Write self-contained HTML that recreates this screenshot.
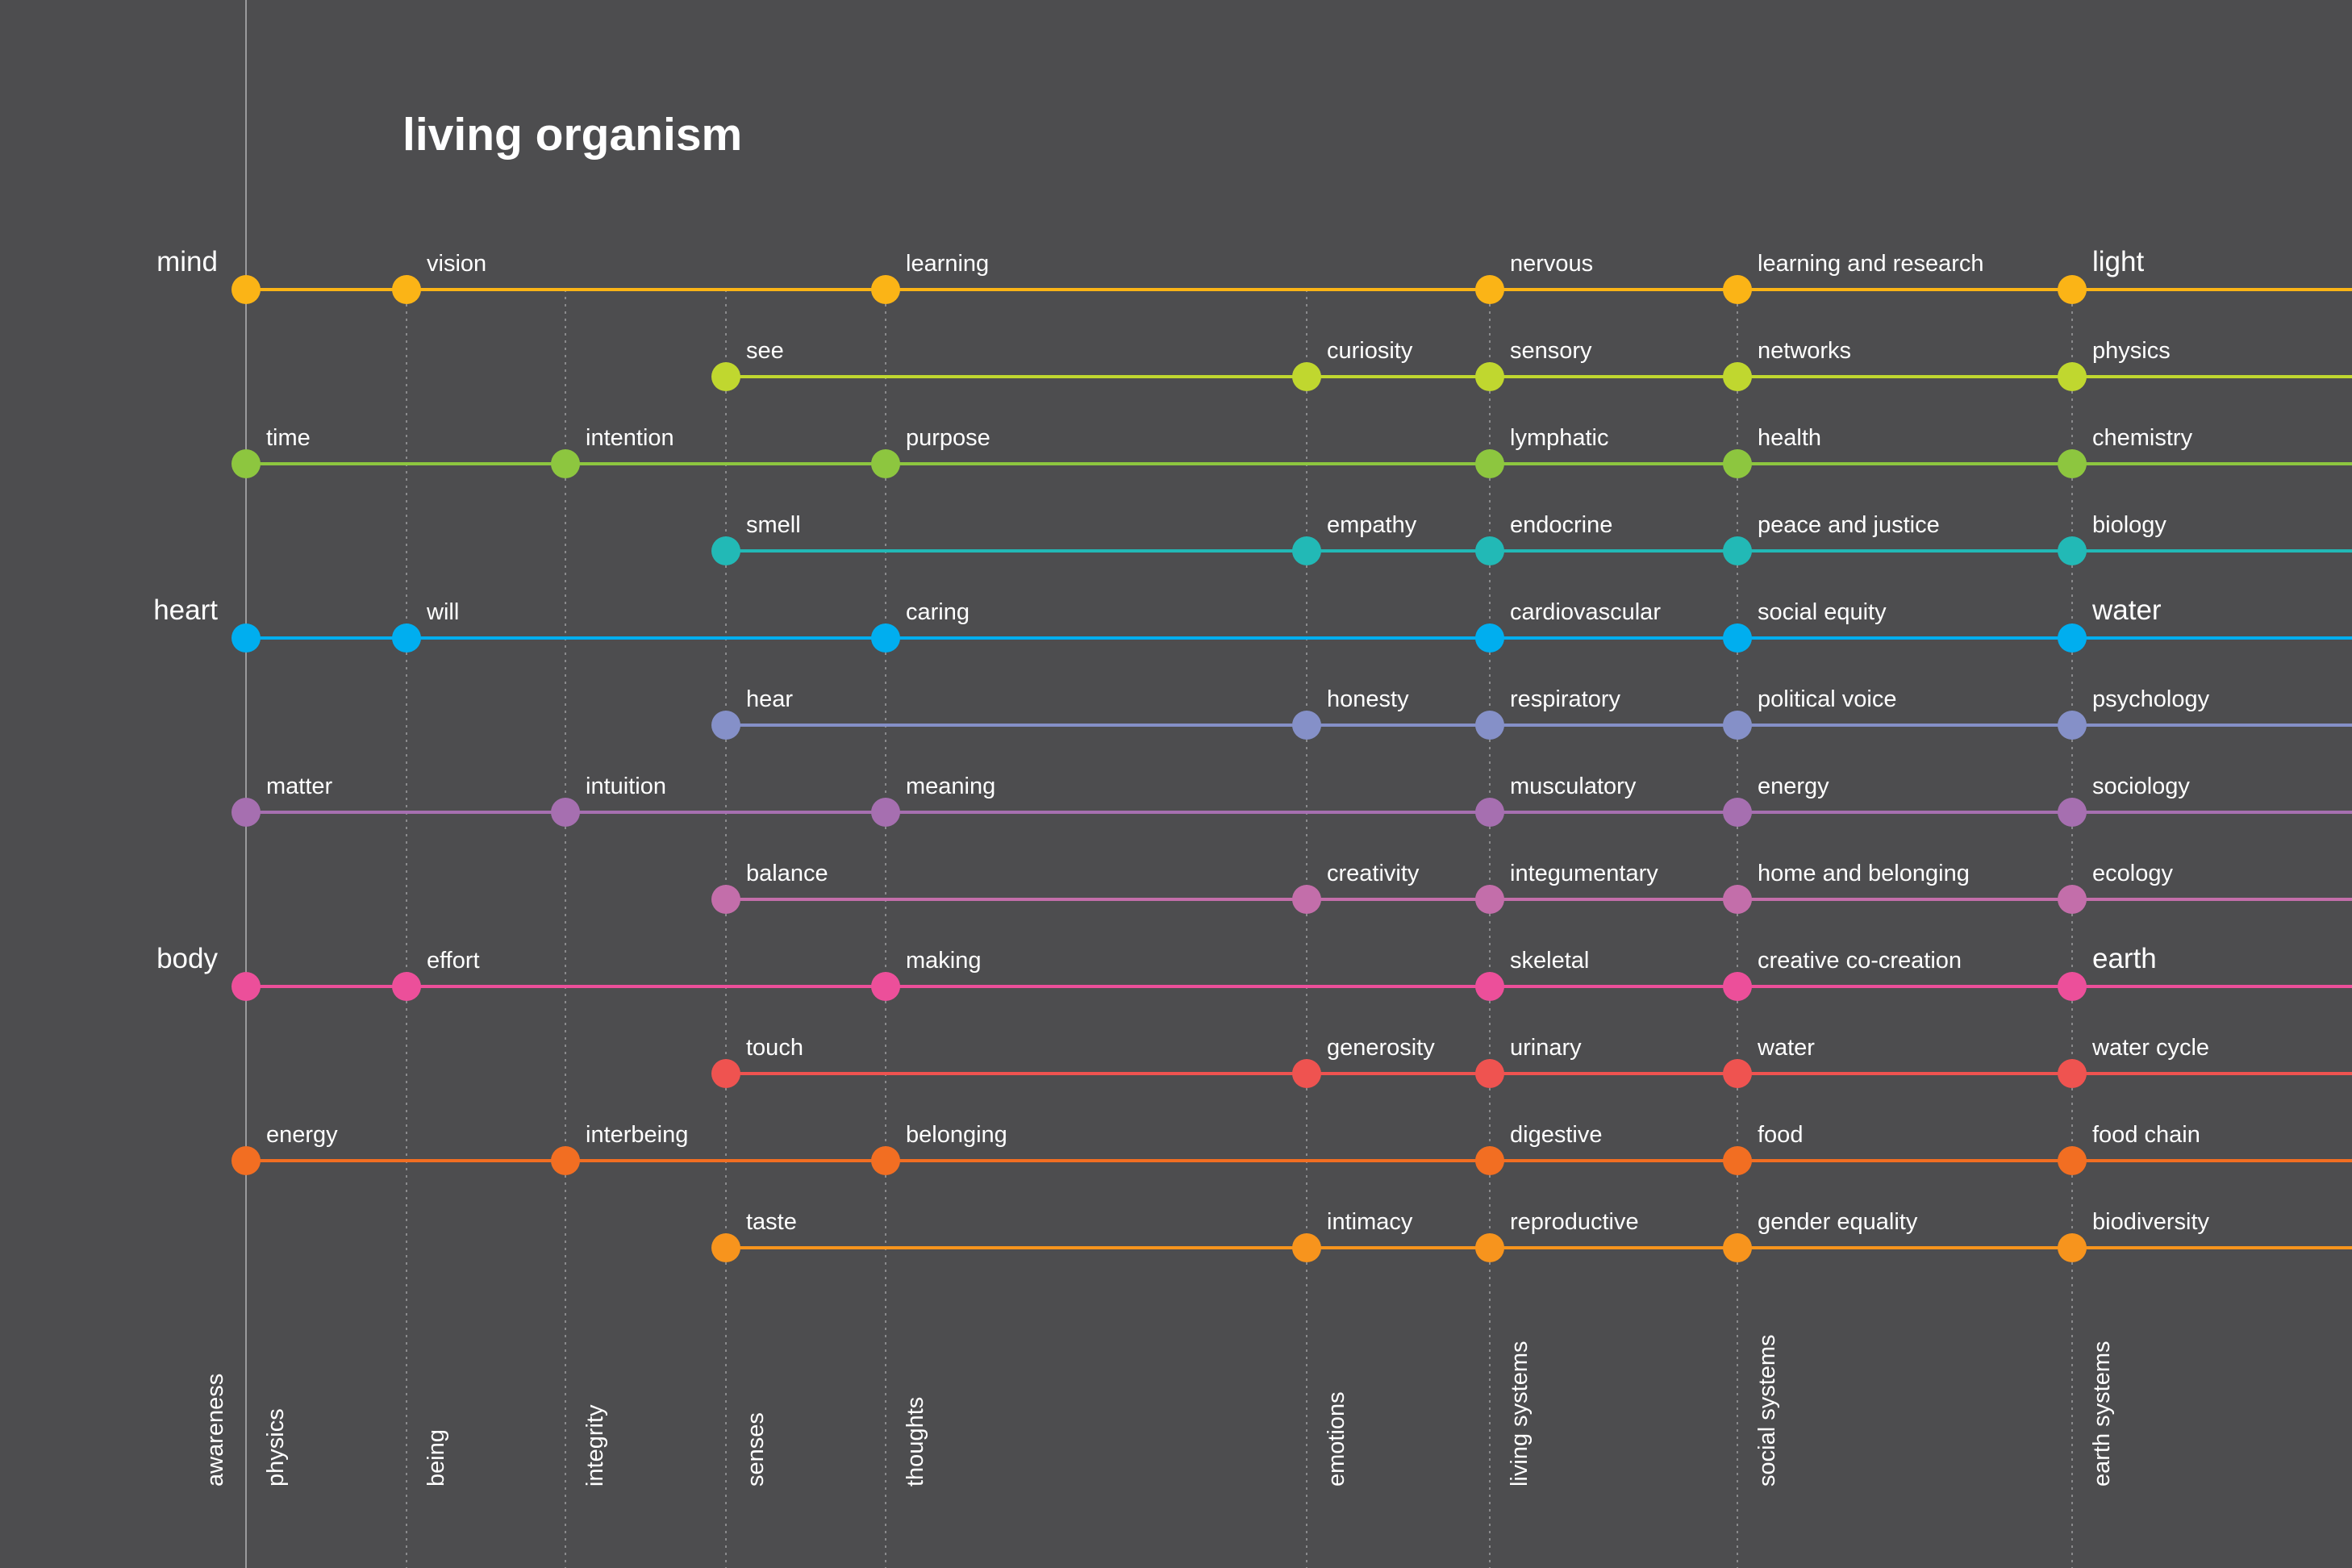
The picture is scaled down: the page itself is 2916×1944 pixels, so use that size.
<!DOCTYPE html>
<html><head><meta charset="utf-8">
<style>
html,body{margin:0;padding:0;background:#4d4d4f;}
svg{display:block;}
text{font-family:"Liberation Sans",sans-serif;fill:#fff;}
</style></head>
<body>
<svg id="chart" width="2916" height="1944" viewBox="0 0 2916 1944" xmlns="http://www.w3.org/2000/svg">
<rect width="2916" height="1944" fill="#4d4d4f"/>
<text x="499" y="186" font-size="57" font-weight="bold">living organism</text>
<g id="grid"></g><g id="rows"></g><g id="cols"></g>
</svg>
<script>
const columns = ["awareness","being","integrity","senses","thoughts","emotions","living systems","social systems","earth systems"];
const columnLabels = ["physics","being","integrity","senses","thoughts","emotions","living systems","social systems","earth systems"];
const rowColors = ["#fbb416","#c0d72f","#8dc63f","#22b9b6","#00aeef","#8590c8","#a66fb0","#c36eaa","#ec4f9a","#ef5350","#f26e22","#f7941d"];
const rowTitles = {0:"mind",4:"heart",8:"body"};
const rowNodes = [
 [[0,""],[1,"vision"],[4,"learning"],[6,"nervous"],[7,"learning and research"],[8,"light"]],
 [[3,"see"],[5,"curiosity"],[6,"sensory"],[7,"networks"],[8,"physics"]],
 [[0,"time"],[2,"intention"],[4,"purpose"],[6,"lymphatic"],[7,"health"],[8,"chemistry"]],
 [[3,"smell"],[5,"empathy"],[6,"endocrine"],[7,"peace and justice"],[8,"biology"]],
 [[0,""],[1,"will"],[4,"caring"],[6,"cardiovascular"],[7,"social equity"],[8,"water"]],
 [[3,"hear"],[5,"honesty"],[6,"respiratory"],[7,"political voice"],[8,"psychology"]],
 [[0,"matter"],[2,"intuition"],[4,"meaning"],[6,"musculatory"],[7,"energy"],[8,"sociology"]],
 [[3,"balance"],[5,"creativity"],[6,"integumentary"],[7,"home and belonging"],[8,"ecology"]],
 [[0,""],[1,"effort"],[4,"making"],[6,"skeletal"],[7,"creative co-creation"],[8,"earth"]],
 [[3,"touch"],[5,"generosity"],[6,"urinary"],[7,"water"],[8,"water cycle"]],
 [[0,"energy"],[2,"interbeing"],[4,"belonging"],[6,"digestive"],[7,"food"],[8,"food chain"]],
 [[3,"taste"],[5,"intimacy"],[6,"reproductive"],[7,"gender equality"],[8,"biodiversity"]]
];
const bigLabels = ["light","water","earth"];

const NS="http://www.w3.org/2000/svg";
const colX=[305,504,701,900,1098,1620,1847,2154,2569];
function xScale(i){return colX[i];}
function yScale(r){return 359+r*108;}
function mk(tag,attrs,parent){const e=document.createElementNS(NS,tag);for(const k in attrs)e.setAttribute(k,attrs[k]);parent.appendChild(e);return e;}
const grid=document.getElementById('grid'),rows=document.getElementById('rows'),cols=document.getElementById('cols');

columns.forEach((c,i)=>{
 const x=xScale(i);
 const l=mk('line',i===0?{x1:x,y1:0,x2:x,y2:1944,stroke:'#9a9a9c','stroke-width':2}:{x1:x,y1:yScale(0),x2:x,y2:1944,stroke:'#8a8a8c','stroke-width':2,'stroke-dasharray':'3 6'},grid);
 
 
});
const aw=mk('text',{transform:`translate(${xScale(0)-29},1843) rotate(-90)`,'font-size':29},cols);
aw.textContent=columns[0];


columnLabels.forEach((c,i)=>{
 const t=mk('text',{transform:`translate(${xScale(i)+46},1843) rotate(-90)`,'font-size':29},cols);
 t.textContent=c;
 
 
});

rowNodes.forEach((nodes,r)=>{
 const y=yScale(r),col=rowColors[r];
 const g=mk('g',{},rows);
 
 
 const ln=mk('line',{x1:xScale(nodes[0][0]),y1:y,x2:2916,y2:y,stroke:col,'stroke-width':4},g);
 
 
 if(rowTitles[r]){
  const t=mk('text',{x:270,y:y-23,'font-size':35,'text-anchor':'end'},g);
  t.textContent=rowTitles[r];
  
  
 }
 nodes.forEach(([ci,label])=>{
  const x=xScale(ci);
  const d=mk('circle',{cx:x,cy:y,r:18,fill:col},g);
  
  
  if(label){
   const big=ci===8&&bigLabels.includes(label);
   const t=mk('text',{x:x+25,y:y-23,'font-size':big?35:29},g);
   t.textContent=label;
   
   
  }
 });
});
</script>
</body></html>
